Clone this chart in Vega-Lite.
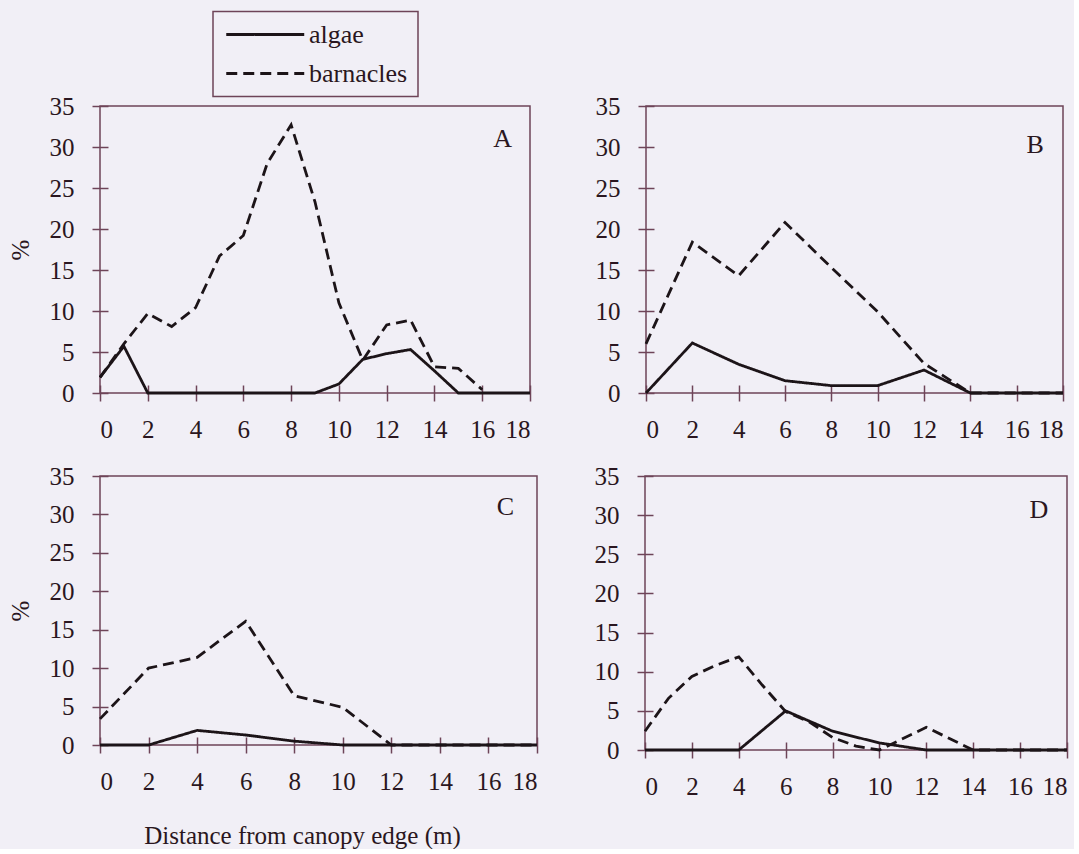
{
  "$schema": "https://vega.github.io/schema/vega-lite/v6.json",
  "background": "#f1eff6",
  "padding": {"left": 7, "top": 10, "right": 0, "bottom": 0},
  "config": {
    "font": "Liberation Serif",
    "view": {"stroke": "#6e4458", "strokeWidth": 1.5},
    "axis": {
      "domain": false, "offset": -8, "grid": false, "labelOverlap": false,
      "tickColor": "#6e4458", "tickWidth": 1.5, "tickSize": 16,
      "labelFont": "Liberation Serif", "labelFontSize": 25, "labelColor": "#2a1620",
      "titleFont": "Liberation Serif", "titleFontSize": 25, "titleFontWeight": "normal", "titleColor": "#2a1620"
    },
    "axisX": {"labelPadding": 16, "tickCount": 12},
    "axisY": {"labelPadding": 18, "tickCount": 10},
    "legend": {"strokeWidth": 1.5},
    "line": {"strokeWidth": 2.8, "color": "#1c1418"}
  },
  "datasets": {
    "d": [
      {"panel": "A", "series": "algae", "x": 0, "value": 1.9},
      {"panel": "A", "series": "algae", "x": 1, "value": 5.7},
      {"panel": "A", "series": "algae", "x": 2, "value": 0},
      {"panel": "A", "series": "algae", "x": 3, "value": 0},
      {"panel": "A", "series": "algae", "x": 4, "value": 0},
      {"panel": "A", "series": "algae", "x": 5, "value": 0},
      {"panel": "A", "series": "algae", "x": 6, "value": 0},
      {"panel": "A", "series": "algae", "x": 7, "value": 0},
      {"panel": "A", "series": "algae", "x": 8, "value": 0},
      {"panel": "A", "series": "algae", "x": 9, "value": 0},
      {"panel": "A", "series": "algae", "x": 10, "value": 1.1},
      {"panel": "A", "series": "algae", "x": 11, "value": 4.1},
      {"panel": "A", "series": "algae", "x": 12, "value": 4.8},
      {"panel": "A", "series": "algae", "x": 13, "value": 5.3},
      {"panel": "A", "series": "algae", "x": 14, "value": 2.7},
      {"panel": "A", "series": "algae", "x": 15, "value": 0},
      {"panel": "A", "series": "algae", "x": 16, "value": 0},
      {"panel": "A", "series": "algae", "x": 17, "value": 0},
      {"panel": "A", "series": "algae", "x": 18, "value": 0},
      {"panel": "A", "series": "barnacles", "x": 0, "value": 1.9},
      {"panel": "A", "series": "barnacles", "x": 1, "value": 6.0},
      {"panel": "A", "series": "barnacles", "x": 2, "value": 9.7},
      {"panel": "A", "series": "barnacles", "x": 3, "value": 8.1},
      {"panel": "A", "series": "barnacles", "x": 4, "value": 10.4},
      {"panel": "A", "series": "barnacles", "x": 5, "value": 16.7},
      {"panel": "A", "series": "barnacles", "x": 6, "value": 19.2},
      {"panel": "A", "series": "barnacles", "x": 7, "value": 28.0},
      {"panel": "A", "series": "barnacles", "x": 8, "value": 32.7},
      {"panel": "A", "series": "barnacles", "x": 9, "value": 23.3},
      {"panel": "A", "series": "barnacles", "x": 10, "value": 11.0},
      {"panel": "A", "series": "barnacles", "x": 11, "value": 4.0},
      {"panel": "A", "series": "barnacles", "x": 12, "value": 8.3},
      {"panel": "A", "series": "barnacles", "x": 13, "value": 8.9},
      {"panel": "A", "series": "barnacles", "x": 14, "value": 3.2},
      {"panel": "A", "series": "barnacles", "x": 15, "value": 3.0},
      {"panel": "A", "series": "barnacles", "x": 16, "value": 0.4},
      {"panel": "B", "series": "algae", "x": 0, "value": 0},
      {"panel": "B", "series": "algae", "x": 2, "value": 6.1},
      {"panel": "B", "series": "algae", "x": 4, "value": 3.5},
      {"panel": "B", "series": "algae", "x": 6, "value": 1.5},
      {"panel": "B", "series": "algae", "x": 8, "value": 0.9},
      {"panel": "B", "series": "algae", "x": 10, "value": 0.9},
      {"panel": "B", "series": "algae", "x": 12, "value": 2.8},
      {"panel": "B", "series": "algae", "x": 14, "value": 0},
      {"panel": "B", "series": "algae", "x": 16, "value": 0},
      {"panel": "B", "series": "algae", "x": 18, "value": 0},
      {"panel": "B", "series": "barnacles", "x": 0, "value": 6.0},
      {"panel": "B", "series": "barnacles", "x": 2, "value": 18.4},
      {"panel": "B", "series": "barnacles", "x": 4, "value": 14.3},
      {"panel": "B", "series": "barnacles", "x": 6, "value": 20.8},
      {"panel": "B", "series": "barnacles", "x": 8, "value": 15.3},
      {"panel": "B", "series": "barnacles", "x": 10, "value": 9.9},
      {"panel": "B", "series": "barnacles", "x": 12, "value": 3.6},
      {"panel": "B", "series": "barnacles", "x": 14, "value": 0},
      {"panel": "B", "series": "barnacles", "x": 16, "value": 0},
      {"panel": "B", "series": "barnacles", "x": 18, "value": 0},
      {"panel": "C", "series": "algae", "x": 0, "value": 0},
      {"panel": "C", "series": "algae", "x": 2, "value": 0},
      {"panel": "C", "series": "algae", "x": 4, "value": 1.9},
      {"panel": "C", "series": "algae", "x": 6, "value": 1.3},
      {"panel": "C", "series": "algae", "x": 8, "value": 0.5},
      {"panel": "C", "series": "algae", "x": 10, "value": 0},
      {"panel": "C", "series": "algae", "x": 12, "value": 0},
      {"panel": "C", "series": "algae", "x": 14, "value": 0},
      {"panel": "C", "series": "algae", "x": 16, "value": 0},
      {"panel": "C", "series": "algae", "x": 18, "value": 0},
      {"panel": "C", "series": "barnacles", "x": 0, "value": 3.4},
      {"panel": "C", "series": "barnacles", "x": 2, "value": 10.0},
      {"panel": "C", "series": "barnacles", "x": 4, "value": 11.4},
      {"panel": "C", "series": "barnacles", "x": 6, "value": 16.1},
      {"panel": "C", "series": "barnacles", "x": 8, "value": 6.4},
      {"panel": "C", "series": "barnacles", "x": 10, "value": 4.9},
      {"panel": "C", "series": "barnacles", "x": 12, "value": 0},
      {"panel": "C", "series": "barnacles", "x": 14, "value": 0},
      {"panel": "C", "series": "barnacles", "x": 16, "value": 0},
      {"panel": "C", "series": "barnacles", "x": 18, "value": 0},
      {"panel": "D", "series": "algae", "x": 0, "value": 0},
      {"panel": "D", "series": "algae", "x": 2, "value": 0},
      {"panel": "D", "series": "algae", "x": 4, "value": 0},
      {"panel": "D", "series": "algae", "x": 6, "value": 5.0},
      {"panel": "D", "series": "algae", "x": 8, "value": 2.4},
      {"panel": "D", "series": "algae", "x": 10, "value": 0.9},
      {"panel": "D", "series": "algae", "x": 12, "value": 0},
      {"panel": "D", "series": "algae", "x": 14, "value": 0},
      {"panel": "D", "series": "algae", "x": 16, "value": 0},
      {"panel": "D", "series": "algae", "x": 18, "value": 0},
      {"panel": "D", "series": "barnacles", "x": 0, "value": 2.4},
      {"panel": "D", "series": "barnacles", "x": 1, "value": 6.6},
      {"panel": "D", "series": "barnacles", "x": 2, "value": 9.4},
      {"panel": "D", "series": "barnacles", "x": 3, "value": 10.8},
      {"panel": "D", "series": "barnacles", "x": 4, "value": 11.9},
      {"panel": "D", "series": "barnacles", "x": 5, "value": 8.3},
      {"panel": "D", "series": "barnacles", "x": 6, "value": 4.9},
      {"panel": "D", "series": "barnacles", "x": 7, "value": 3.6},
      {"panel": "D", "series": "barnacles", "x": 8, "value": 1.6},
      {"panel": "D", "series": "barnacles", "x": 9, "value": 0.5},
      {"panel": "D", "series": "barnacles", "x": 10, "value": 0},
      {"panel": "D", "series": "barnacles", "x": 12, "value": 2.9},
      {"panel": "D", "series": "barnacles", "x": 14, "value": 0},
      {"panel": "D", "series": "barnacles", "x": 16, "value": 0},
      {"panel": "D", "series": "barnacles", "x": 18, "value": 0}
    ]
  },
  "resolve": {"legend": {"strokeDash": "independent"}, "scale": {"y": "independent", "x": "independent"}, "axis": {"y": "independent", "x": "independent"}},
  "spacing": 20,
  "vconcat": [
    {
      "spacing": 57,
      "resolve": {"legend": {"strokeDash": "independent"}, "scale": {"y": "independent", "x": "independent"}},
      "hconcat": [
        {
          "width": 430, "height": 287,
          "layer": [
            {
              "data": {"name": "d"},
              "transform": [{"filter": "datum.panel === 'A'"}],
              "mark": {"type": "line"},
              "encoding": {
                "x": {"field": "x", "type": "quantitative", "scale": {"domain": [0, 18], "nice": false}, "axis": {"values": [0, 2, 4, 6, 8, 10, 12, 14, 16, 18], "tickCount": 12, "title": null}},
                "y": {"field": "value", "type": "quantitative", "scale": {"domain": [0, 35], "nice": false}, "axis": {"values": [0, 5, 10, 15, 20, 25, 30, 35], "tickCount": 10, "title": "%", "titlePadding": 16}},
                "strokeDash": {"field": "series", "type": "nominal", "scale": {"domain": ["algae", "barnacles"], "range": [[1, 0], [11, 6]]},
                  "legend": {"orient": "none", "legendX": 113, "legendY": -94.5, "title": null, "strokeColor": "#6e4458", "padding": 10, "symbolType": "M-1,0H7", "symbolSize": 380, "symbolStrokeWidth": 2.6, "symbolStrokeColor": "#1c1418", "labelFont": "Liberation Serif", "labelFontSize": 26, "labelColor": "#2a1620", "labelOffset": 60, "rowPadding": 13}}
              }
            },
            {
              "data": {"values": [{"label": "A"}]},
              "mark": {"type": "text", "fontSize": 26, "font": "Liberation Serif", "color": "#2a1620"},
              "encoding": {"x": {"datum": 16.85}, "y": {"datum": 31.0}, "text": {"field": "label"}}
            }
          ]
        },
        {
          "width": 417, "height": 287,
          "layer": [
            {
              "data": {"name": "d"},
              "transform": [{"filter": "datum.panel === 'B'"}],
              "mark": {"type": "line"},
              "encoding": {
                "x": {"field": "x", "type": "quantitative", "scale": {"domain": [0, 18], "nice": false}, "axis": {"values": [0, 2, 4, 6, 8, 10, 12, 14, 16, 18], "tickCount": 12, "title": null}},
                "y": {"field": "value", "type": "quantitative", "scale": {"domain": [0, 35], "nice": false}, "axis": {"values": [0, 5, 10, 15, 20, 25, 30, 35], "tickCount": 10, "title": null}},
                "strokeDash": {"field": "series", "type": "nominal", "scale": {"domain": ["algae", "barnacles"], "range": [[1, 0], [11, 6]]}, "legend": null}
              }
            },
            {
              "data": {"values": [{"label": "B"}]},
              "mark": {"type": "text", "fontSize": 26, "font": "Liberation Serif", "color": "#2a1620"},
              "encoding": {"x": {"datum": 16.8}, "y": {"datum": 30.3}, "text": {"field": "label"}}
            }
          ]
        }
      ]
    },
    {
      "spacing": 49,
      "resolve": {"legend": {"strokeDash": "independent"}, "scale": {"y": "independent", "x": "independent"}},
      "hconcat": [
        {
          "width": 437, "height": 269,
          "layer": [
            {
              "data": {"name": "d"},
              "transform": [{"filter": "datum.panel === 'C'"}],
              "mark": {"type": "line"},
              "encoding": {
                "x": {"field": "x", "type": "quantitative", "scale": {"domain": [0, 18], "nice": false}, "axis": {"values": [0, 2, 4, 6, 8, 10, 12, 14, 16, 18], "tickCount": 12, "title": "Distance from canopy edge (m)", "titleX": 202, "titlePadding": 29}},
                "y": {"field": "value", "type": "quantitative", "scale": {"domain": [0, 35], "nice": false}, "axis": {"values": [0, 5, 10, 15, 20, 25, 30, 35], "tickCount": 10, "title": "%", "titlePadding": 16}},
                "strokeDash": {"field": "series", "type": "nominal", "scale": {"domain": ["algae", "barnacles"], "range": [[1, 0], [11, 6]]}, "legend": null}
              }
            },
            {
              "data": {"values": [{"label": "C"}]},
              "mark": {"type": "text", "fontSize": 26, "font": "Liberation Serif", "color": "#2a1620"},
              "encoding": {"x": {"datum": 16.7}, "y": {"datum": 31.0}, "text": {"field": "label"}}
            }
          ]
        },
        {
          "width": 422, "height": 274,
          "layer": [
            {
              "data": {"name": "d"},
              "transform": [{"filter": "datum.panel === 'D'"}],
              "mark": {"type": "line"},
              "encoding": {
                "x": {"field": "x", "type": "quantitative", "scale": {"domain": [0, 18], "nice": false}, "axis": {"values": [0, 2, 4, 6, 8, 10, 12, 14, 16, 18], "tickCount": 12, "title": null}},
                "y": {"field": "value", "type": "quantitative", "scale": {"domain": [0, 35], "nice": false}, "axis": {"values": [0, 5, 10, 15, 20, 25, 30, 35], "tickCount": 10, "title": null}},
                "strokeDash": {"field": "series", "type": "nominal", "scale": {"domain": ["algae", "barnacles"], "range": [[1, 0], [11, 6]]}, "legend": null}
              }
            },
            {
              "data": {"values": [{"label": "D"}]},
              "mark": {"type": "text", "fontSize": 26, "font": "Liberation Serif", "color": "#2a1620"},
              "encoding": {"x": {"datum": 16.8}, "y": {"datum": 30.6}, "text": {"field": "label"}}
            }
          ]
        }
      ]
    }
  ]
}
